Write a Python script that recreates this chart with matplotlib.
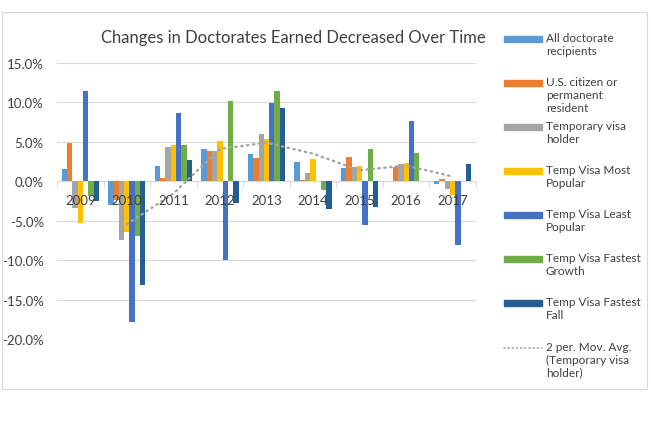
import matplotlib
matplotlib.use("Agg")
import matplotlib.pyplot as plt
import numpy as np
from matplotlib.patches import Rectangle
from matplotlib.lines import Line2D
from matplotlib.ticker import FixedLocator, FuncFormatter

plt.rcParams['font.family'] = ['Lato', 'DejaVu Sans']

years = ["2009", "2010", "2011", "2012", "2013", "2014", "2015", "2016", "2017"]
all_doctorate = [1.6, -3.0, 1.9, 4.15, 3.4, 2.4, 1.65, 0.05, -0.3]
us_citizen = [4.8, -2.4, 0.4, 3.9, 3.0, 0.1, 3.1, 1.8, 0.25]
temp_visa = [-3.4, -7.5, 4.4, 3.8, 6.0, 1.0, 1.8, 2.2, -1.0]
most_popular = [-5.3, -6.4, 4.6, 5.1, 5.3, 2.8, 2.0, 2.3, -1.8]
least_popular = [11.4, -17.9, 8.6, -10.0, 9.9, 0.0, -5.6, 7.7, -8.1]
fastest_growth = [-1.9, -7.0, 4.6, 10.2, 11.4, -1.1, 4.1, 3.6, 0.0]
fastest_fall = [-2.5, -13.1, 2.75, -2.8, 9.3, -3.5, -3.2, 0.0, 2.2]

series_names = ["All doctorate\nrecipients", "U.S. citizen or\npermanent\nresident",
                "Temporary visa\nholder", "Temp Visa Most\nPopular", "Temp Visa Least\nPopular",
                "Temp Visa Fastest\nGrowth", "Temp Visa Fastest\nFall"]
trend_name = "2 per. Mov. Avg.\n(Temporary visa\nholder)"
colors = ["#5B9BD5", "#ED7D31", "#A5A5A5", "#FFC000", "#4472C4", "#70AD47", "#255E91"]
series = [all_doctorate, us_citizen, temp_visa, most_popular, least_popular, fastest_growth, fastest_fall]

W, H = 651, 435
fig = plt.figure(figsize=(W / 100, H / 100), dpi=100)

def fx(px):
    return px / W

def fy(py):
    return 1 - py / H

# chart border
fig.patches.append(Rectangle((fx(2), fy(390)), fx(647) - fx(2), fy(13) - fy(390),
                             transform=fig.transFigure, fill=False, edgecolor="#D9D9D9", lw=0.8))

ax = fig.add_axes([fx(57), fy(340), fx(476) - fx(57), fy(64) - fy(340)])
x = np.arange(len(years))
bw = 1 / 8.74
for i, (vals, c) in enumerate(zip(series, colors)):
    ax.bar(x + (i - 3) * bw, vals, width=bw, color=c, zorder=2)

# 2-period moving average of Temporary visa holder
tv = np.array(temp_visa)
ma = (tv[1:] + tv[:-1]) / 2
ax.plot(x[1:], ma, color="#A5A5A5", lw=1.7, linestyle=(0, (0.6, 1.9)),
        dash_capstyle="round", zorder=3)

ax.set_xlim(-0.5, len(years) - 0.5)
ax.set_ylim(-20, 15)
ax.set_yticks(np.arange(-20, 16, 5))
ax.yaxis.set_major_formatter(FuncFormatter(lambda v, p: f"{v:.1f}%"))
ax.tick_params(axis="y", length=0, pad=9.5, labelsize=9.5, labelcolor="#404040")
ax.grid(axis="y", color="#D9D9D9", lw=0.8, zorder=0)
ax.set_axisbelow(True)
for s in ["top", "right", "left"]:
    ax.spines[s].set_visible(False)
ax.spines["bottom"].set_position(("data", 0))
ax.spines["bottom"].set_color("#D9D9D9")
ax.spines["bottom"].set_linewidth(0.8)
ax.xaxis.set_major_locator(FixedLocator(np.arange(-0.5, len(years), 1.0)))
ax.xaxis.set_major_formatter(FuncFormatter(lambda v, p: ""))
ax.xaxis.set_minor_locator(FixedLocator(x))
ax.set_xticklabels(years, minor=True)
ax.tick_params(axis="x", which="major", length=4, color="#D9D9D9", width=0.8)
ax.tick_params(axis="x", which="minor", length=0, pad=9, labelsize=9.5, labelcolor="#404040")
ax.xaxis.set_zorder(5)
ax.spines["bottom"].set_zorder(1)

fig.text(fx(293), fy(38), "Changes in Doctorates Earned Decreased Over Time",
         ha="center", va="center", fontsize=12, color="#404040")

# legend
entry_y = [40, 83.5, 128, 172, 216, 260, 304, 348.5]
for k, (name, c) in enumerate(zip(series_names, colors)):
    yc = entry_y[k]
    fig.patches.append(Rectangle((fx(504), fy(yc + 3)), fx(542) - fx(504), fy(yc - 3) - fy(yc + 3),
                                 transform=fig.transFigure, color=c))
    fig.text(fx(546), fy(yc - 6.5), name, ha="left", va="top", fontsize=8.5,
             color="#404040", linespacing=1.2)
yc = entry_y[7]
fig.lines.append(Line2D([fx(504), fx(542)], [fy(yc), fy(yc)], transform=fig.transFigure,
                        color="#A5A5A5", lw=1.2, linestyle=(0, (0.6, 1.9)), dash_capstyle="round"))
fig.text(fx(546), fy(yc - 6.5), trend_name, ha="left", va="top", fontsize=8.5,
         color="#404040", linespacing=1.2)

fig.savefig("out.png", dpi=100)
